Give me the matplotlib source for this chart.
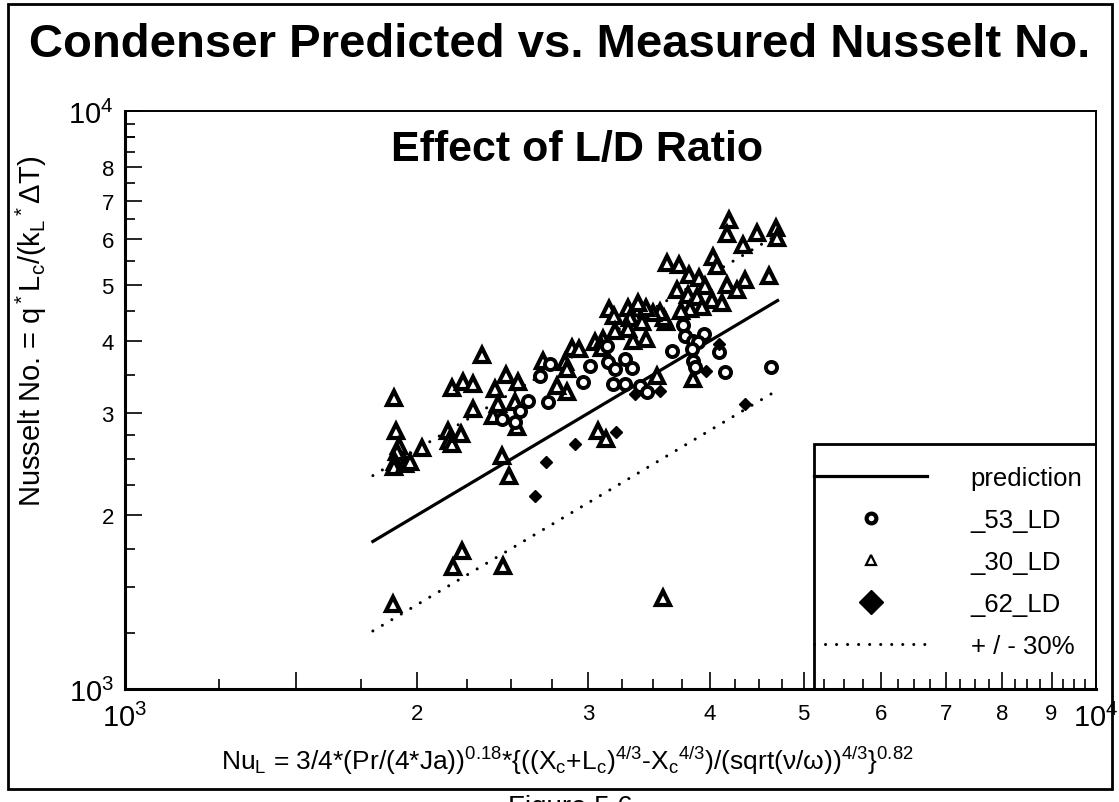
import numpy as np
import matplotlib
matplotlib.use('Agg')
import matplotlib.pyplot as plt
from matplotlib.lines import Line2D
from matplotlib.patches import Rectangle

plt.rcParams['font.family'] = 'Liberation Sans'
plt.rcParams['mathtext.fontset'] = 'custom'
plt.rcParams['mathtext.rm'] = 'Liberation Sans'
plt.rcParams['mathtext.it'] = 'Liberation Sans:italic'
plt.rcParams['mathtext.bf'] = 'Liberation Sans:bold'

# prediction line (y = x) and +/- 30 % band
line_x = [1800, 4700]
pred_y = [1800, 4700]
upper_y = [2340, 6110]
lower_y = [1260, 3290]

# _30_LD  (triangles)
ld30_x = [1892, 1901, 1915, 1906, 1896, 1892, 1943, 1966, 2023,
          2172, 2229, 2283, 2332, 2405, 2468, 2539, 2695,
          2283, 2151, 2157, 2172, 2218, 2422, 2393, 2521, 2533,
          2445, 2486, 2224, 2177, 2451, 1888, 3581,
          4188, 4168, 4330, 4476, 4682, 4693, 4032, 4070,
          3615, 3720, 3809, 3900, 3956, 3702, 3800, 3882,
          4022, 4119, 4168, 4350, 4268, 4605, 3928, 3818,
          3737, 3607, 3590, 3556, 3497, 3440, 3375, 3296,
          3312, 3407, 3151, 3188, 3296, 3196, 3335, 3440,
          2886, 2935, 3048, 3107, 3099, 2839, 2853, 2853,
          2786, 3531, 3846, 3070, 3129]
ld30_y = [3188, 2797, 2636, 2575, 2475, 2426, 2446, 2475, 2616,
          3316, 3395, 3369, 3778, 3303, 3491, 3395, 3689,
          3052, 2797, 2689, 2657, 2764, 3113, 2969, 3138, 2842,
          2535, 2332, 1733, 1627, 1634, 1405, 1439,
          6471, 6123, 5862, 6148, 6271, 6028, 5590, 5395,
          5459, 5416, 5206, 5145, 4985, 4907, 4810, 4772,
          4715, 4660, 5005, 5105, 4907, 5186, 4585, 4549,
          4513, 4321, 4390, 4495, 4478, 4567, 4660, 4567,
          4390, 4321, 4549, 4425, 4188, 4155, 3993, 4025,
          3884, 3869, 3978, 4025, 3884, 3674, 3574, 3264,
          3342, 3476, 3436, 2797, 2710]

# _53_LD  (circles)
ld53_x = [2445, 2600, 2551, 2521, 2676, 2727,
          3755, 3773, 3846, 3947, 3891, 3836, 3658, 4090,
          3846, 3864, 4148, 4627, 3136, 3012, 3143, 3196,
          3272, 3327, 2963, 3181, 3272, 3391, 3448, 2740]
ld53_y = [2934, 3150, 3028, 2899, 3476, 3138,
          4270, 4074, 3993, 4106, 3978, 3869, 3838, 3823,
          3689, 3602, 3531, 3602, 3915, 3616, 3674, 3574,
          3719, 3589, 3395, 3369, 3369, 3342, 3264, 3645]

# _62_LD  (diamonds)
ld62_x = [2714, 2644, 4090, 3966, 3556, 3351, 2907, 3200, 4350]
ld62_y = [2475, 2154, 3946, 3545, 3277, 3238, 2657, 2780, 3110]

x_major = [1000, 1500, 2000, 3000, 4000, 5000, 6000, 7000, 8000, 9000, 10000]
x_labels = ['$10^3$', '', '2', '3', '4', '5', '6', '7', '8', '9', '$10^4$']
y_major = [1000, 2000, 3000, 4000, 5000, 6000, 7000, 8000, 10000]
y_labels = ['$10^3$', '2', '3', '4', '5', '6', '7', '8', '$10^4$']

W, H = 1119, 803
fig = plt.figure(figsize=(W / 100, H / 100), dpi=100)
ax = fig.add_axes([125 / W, 1 - 690 / H, 971 / W, 578 / H])

ax.set_xscale('log')
ax.set_yscale('log')
ax.set_xlim(1000, 10000)
ax.set_ylim(1000, 10000)

dots = (0, (0.01, 3.6))
ax.plot(line_x, pred_y, color='black', lw=2.3, zorder=2)
ax.plot(line_x, upper_y, color='black', lw=2.2, ls=dots, dash_capstyle='round', zorder=2)
ax.plot(line_x, lower_y, color='black', lw=2.2, ls=dots, dash_capstyle='round', zorder=2)

ax.plot(ld30_x, ld30_y, ls='none', marker='^', ms=9.5, mfc='white', mec='black', mew=3, zorder=3)
ax.plot(ld53_x, ld53_y, ls='none', marker='o', ms=8, mfc='white', mec='black', mew=2.8, zorder=3)
ax.plot(ld62_x, ld62_y, ls='none', marker='D', ms=6, mfc='black', mec='black', zorder=3)

# ticks
ax.set_xticks(x_major, x_labels)
ax.set_yticks(y_major, y_labels)
ax.set_xticks([v * 1000 for v in np.arange(1.25, 10, 0.25) if v * 1000 not in x_major], minor=True)
ax.set_yticks([v * 1000 for v in list(np.arange(1.25, 3, 0.25)) + list(np.arange(3.5, 10, 0.5)) + [9]],
              minor=True)
ax.xaxis.set_minor_formatter(plt.NullFormatter())
ax.yaxis.set_minor_formatter(plt.NullFormatter())
ax.tick_params(which='both', direction='in', top=False, right=False, width=1.2)
ax.tick_params(which='major', length=12, labelsize=16)
ax.tick_params(which='minor', length=7)
ax.tick_params(axis='x', which='major', pad=10)
ax.tick_params(axis='y', which='major', pad=8)
for lab in ax.get_xticklabels() + ax.get_yticklabels():
    if '10^' in lab.get_text():
        lab.set_fontsize(21)

for s in ['left', 'bottom']:
    ax.spines[s].set_linewidth(2.2)
for s in ['top', 'right']:
    ax.spines[s].set_linewidth(1.4)

ax.set_ylabel('Nusselt No. = q$^*$L$_\\mathrm{c}$/(k$_\\mathrm{L}$$^*$ΔT)', fontsize=21)
ax.yaxis.set_label_coords(-0.078, 0.62)
ax.set_xlabel('Nu$_\\mathrm{L}$ = 3/4*(Pr/(4*Ja))$^{0.18}$*{((X$_\\mathrm{c}$+L$_\\mathrm{c}$)$^{4/3}$'
              '-X$_\\mathrm{c}$$^{4/3}$)/(sqrt(ν/ω))$^{4/3}$}$^{0.82}$', fontsize=19)
ax.xaxis.set_label_coords(0.455, -0.095)

ax.text(0.466, 0.935, 'Effect of L/D Ratio', transform=ax.transAxes, ha='center', va='center',
        fontsize=31, fontweight='bold')
fig.text(0.5, 1 - 45 / H, 'Condenser Predicted vs. Measured Nusselt No.', ha='center', va='center',
         fontsize=34, fontweight='bold')
fig.text(570 / W, 1 - 795 / H, 'Figure 5.6', ha='center', va='top', fontsize=20)

# outer frame
fig.patches.append(Rectangle((8 / W, 1 - 790 / H), 1104 / W, 785 / H, transform=fig.transFigure,
                             fill=False, edgecolor='black', lw=2))

# legend box
ax.add_patch(Rectangle((0.7096, 0), 0.2904, 0.424, transform=ax.transAxes, facecolor='white',
                       edgecolor='black', lw=2, zorder=1.2))
handles = [Line2D([], [], color='black', lw=2.3),
           Line2D([], [], ls='none', marker='o', ms=7, mfc='white', mec='black', mew=3),
           Line2D([], [], ls='none', marker='^', ms=7, mfc='white', mec='black', mew=1.6),
           Line2D([], [], ls='none', marker='D', ms=12, mfc='black', mec='black'),
           Line2D([], [], color='black', lw=2.2, ls=dots, dash_capstyle='round')]
labels = ['prediction', '_53_LD', '_30_LD', '_62_LD', '+ / - 30%']
leg = ax.legend(handles, labels, loc='upper left', bbox_to_anchor=(0.7096, 0.385), frameon=False,
                borderpad=0, borderaxespad=0, handlelength=4.4, handletextpad=1.7,
                labelspacing=0.7, fontsize=18.5)

fig.savefig('out.png', dpi=100)
